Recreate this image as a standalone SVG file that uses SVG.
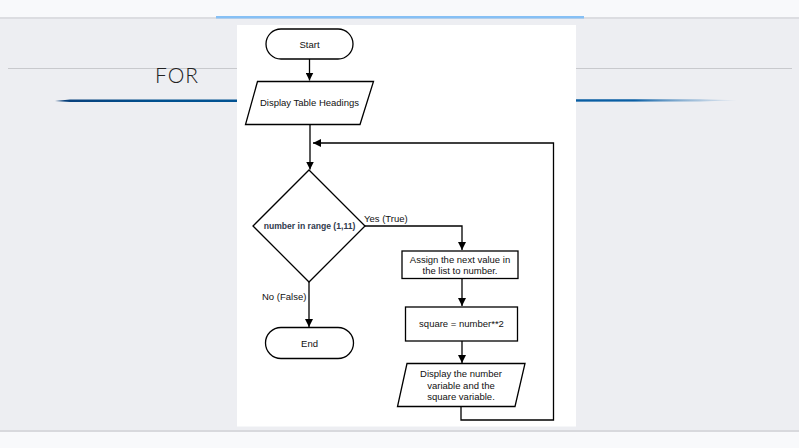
<svg xmlns="http://www.w3.org/2000/svg" width="799" height="448" viewBox="0 0 799 448">
<defs>
<style>
.sh{fill:#fff;stroke:#000;stroke-width:1.3}
.ln{fill:none;stroke:#000;stroke-width:1.3}
.t{font-family:"Liberation Sans",Arial,sans-serif;font-size:9.5px;fill:#111;text-anchor:middle}
.lb{font-family:"Liberation Sans",Arial,sans-serif;font-size:9.5px;fill:#111}
</style>
<marker id="ah" viewBox="0 0 10 10" refX="10" refY="5" markerWidth="8" markerHeight="8" markerUnits="userSpaceOnUse" orient="auto">
<path d="M0,0 L10,5 L0,10 z" fill="#000"/>
</marker>
<linearGradient id="bl" x1="0" x2="1" y1="0" y2="0">
<stop offset="0" stop-color="#0a3f7a"/>
<stop offset="0.15" stop-color="#00508f"/>
<stop offset="0.85" stop-color="#0a5fa5"/>
<stop offset="1" stop-color="#b8cfe6" stop-opacity="0.3"/>
</linearGradient>
</defs>
<rect x="0" y="0" width="799" height="448" fill="#edeef2"/>
<rect x="0" y="0" width="799" height="17" fill="#f8f9fb"/>
<rect x="0" y="17" width="799" height="2" fill="#dcdde1"/>
<rect x="216" y="16" width="368" height="2.5" fill="#86c0f5"/>
<rect x="0" y="430" width="799" height="2" fill="#d8d9dd"/>
<rect x="0" y="432" width="799" height="16" fill="#f8f9fb"/>
<line x1="8" y1="68.5" x2="792" y2="68.5" stroke="#c8c9cd" stroke-width="1"/>
<text x="155" y="83" font-family="Lato, 'Liberation Sans', sans-serif" font-weight="300" font-size="21" fill="#222" letter-spacing="1">FOR</text>
<path d="M55,101 L70,99.5 L700,99.3 L737,100.3 L700,101.6 L70,102 Z" fill="url(#bl)"/>
<rect x="237" y="25" width="339" height="401.5" fill="#fff"/>

<g id="connectors">
<line class="ln" x1="309.5" y1="59" x2="309.5" y2="80.5" marker-end="url(#ah)"/>
<line class="ln" x1="310" y1="124.5" x2="310" y2="169.5" marker-end="url(#ah)"/>
<polyline class="ln" points="365,226 462,226 462,250" marker-end="url(#ah)"/>
<line class="ln" x1="462" y1="278.5" x2="462" y2="306" marker-end="url(#ah)"/>
<line class="ln" x1="462" y1="341" x2="462" y2="363" marker-end="url(#ah)"/>
<polyline class="ln" points="461,406.5 461,420 553.5,420 553.5,143 313,143" marker-end="url(#ah)"/>
<line class="ln" x1="309" y1="282" x2="309" y2="327" marker-end="url(#ah)"/>
<text class="lb" x="364" y="221.5">Yes (True)</text>
<text class="lb" x="262" y="300">No (False)</text>
</g>

<g id="start">
<rect class="sh" x="266" y="29" width="87" height="30" rx="15"/>
<text class="t" x="309.5" y="47.5">Start</text>
</g>
<g id="headings">
<polygon class="sh" points="257.5,81.5 373.5,81.5 360,124.5 245.5,124.5"/>
<text class="t" x="309.5" y="106">Display Table Headings</text>
</g>
<g id="decision">
<polygon class="sh" points="309,170 365,226 309,282 253,226"/>
<text x="309.5" y="229" font-family="'Liberation Sans',Arial,sans-serif" font-size="8.6px" font-weight="bold" fill="#2f3a4d" text-anchor="middle">number in range (1,11)</text>
</g>
<g id="assign">
<rect class="sh" x="402" y="251" width="116" height="27.5"/>
<text class="t" x="460" y="262.5">Assign the next value in</text>
<text class="t" x="460" y="274">the list to number.</text>
</g>
<g id="square">
<rect class="sh" x="405.5" y="307" width="112" height="34"/>
<text class="t" x="461.5" y="327">square = number**2</text>
</g>
<g id="display">
<polygon class="sh" points="407,363.5 525,363.5 515,406.5 397.5,406.5"/>
<text class="t" x="461" y="377">Display the number</text>
<text class="t" x="461" y="388.5">variable and the</text>
<text class="t" x="461" y="400">square variable.</text>
</g>
<g id="end">
<rect class="sh" x="265.5" y="327.5" width="88" height="31" rx="15.5"/>
<text class="t" x="309.5" y="346.5">End</text>
</g>
</svg>
